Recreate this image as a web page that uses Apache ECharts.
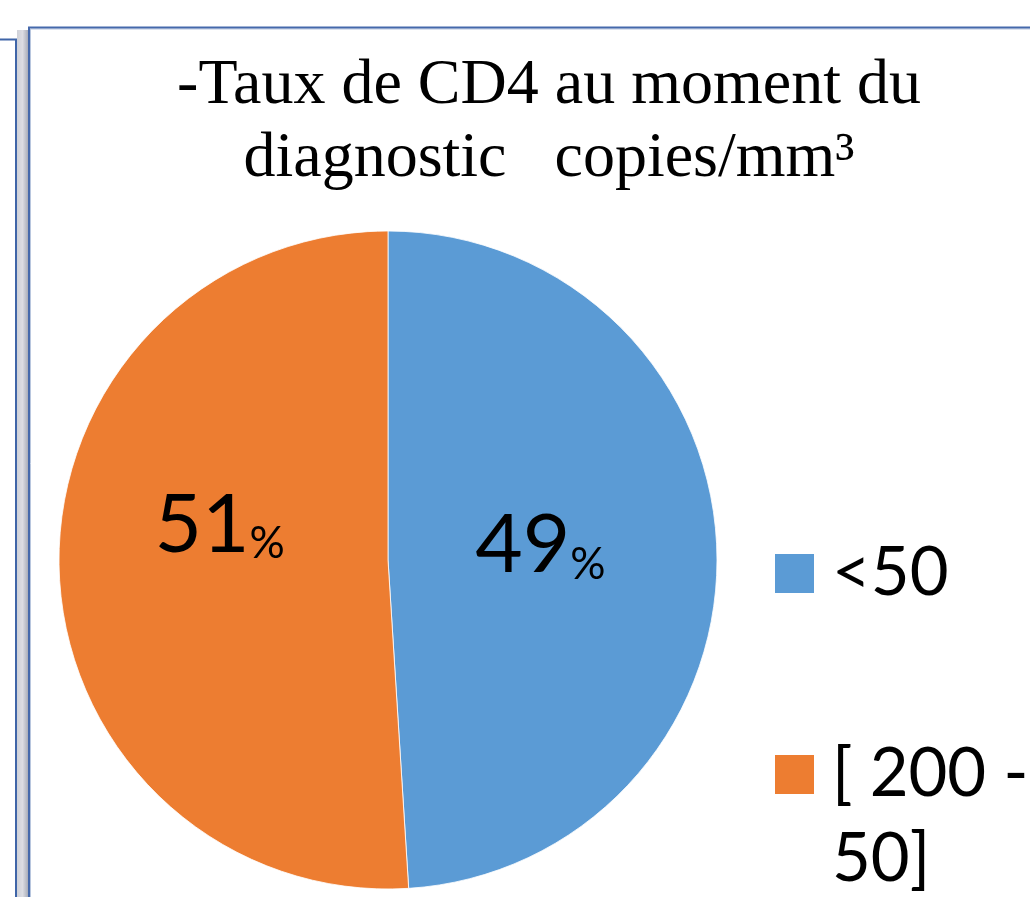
<!DOCTYPE html>
<html>
<head>
<meta charset="utf-8">
<script src="https://cdn.jsdelivr.net/npm/echarts@6/dist/echarts.min.js"></script>
<style>
html,body{margin:0;padding:0;background:#fff;}
#chart{width:1030px;height:897px;}
</style>
</head>
<body>
<div id="chart"></div>
<script>
var titleText = '-Taux de CD4 au moment du\ndiagnostic   copies/mm³';
var categories = ['<50', '[ 200 - 50]'];
var values = [49, 51];
var colors = ['#5B9BD5', '#ED7D31'];

var pieData = categories.map(function (c, i) {
  return { name: c, value: values[i], itemStyle: { color: colors[i] } };
});

var chart = echarts.init(document.getElementById('chart'), null, { renderer: 'canvas' });
chart.setOption({
  backgroundColor: '#fff',
  animation: false,
  title: {
    text: titleText,
    left: 549,
    top: 50,
    padding: 0,
    textAlign: 'center',
    textStyle: {
      fontFamily: 'Liberation Serif', fontSize: 64, fontWeight: 'normal',
      color: '#000', lineHeight: 73
    }
  },
  legend: [
    {
      data: [categories[0]],
      orient: 'vertical', left: 773, top: 528, padding: 0,
      itemWidth: 41, itemHeight: 41, icon: 'rect',
      textStyle: {
        fontFamily: 'Lato', fontSize: 67, color: '#000', lineHeight: 85,
        padding: [0, 0, 6, 12]
      }
    },
    {
      data: [categories[1]],
      orient: 'vertical', left: 773, top: 647, padding: 0,
      itemWidth: 41, itemHeight: 41, icon: 'rect',
      formatter: function (name) { return '\n' + name.replace(/ (\S+)$/, '\n$1'); },
      textStyle: {
        fontFamily: 'Lato', fontSize: 67, color: '#000', lineHeight: 85,
        padding: [0, 0, 0, 12]
      }
    }
  ],
  graphic: [
    { type: 'rect', silent: true, shape: { x: 17, y: 30, width: 11, height: 870 },
      style: { fill: new echarts.graphic.LinearGradient(0, 0, 1, 0, [
        { offset: 0, color: '#cfd1d8' }, { offset: 0.5, color: '#dcdde3' }, { offset: 1, color: '#a9adb9' }]) } },
    { type: 'polyline', silent: true, shape: { points: [[0, 39.5], [16, 39.5], [16, 900]] },
      style: { stroke: '#3f65a8', lineWidth: 2, fill: null } },
    { type: 'polyline', silent: true, shape: { points: [[30.5, 900], [30.5, 29], [1032, 29]] },
      style: { stroke: '#b8c6de', lineWidth: 1, fill: null } },
    { type: 'polyline', silent: true, shape: { points: [[29, 900], [29, 27.5], [1032, 27.5]] },
      style: { stroke: '#4569ab', lineWidth: 2, fill: null } }
  ],
  series: [{
    type: 'pie',
    center: [388, 560],
    radius: 329,
    startAngle: 90,
    clockwise: true,
    silent: true,
    data: pieData,
    itemStyle: { borderColor: '#ffffff', borderWidth: 0.8 },
    labelLine: { show: false },
    label: {
      show: true,
      position: 'inside',
      formatter: function (p) { return '{v|' + p.value + '}{p|%}'; },
      rich: {
        v: { fontFamily: 'Lato', fontSize: 82, color: '#000', lineHeight: 82 },
        p: { fontFamily: 'Lato', fontSize: 44, color: '#000', lineHeight: 57, verticalAlign: 'bottom' }
      }
    },
    labelLayout: function (params) {
      return params.dataIndex === 0 ? { dx: -15, dy: -9 } : { dx: -1, dy: -40 };
    }
  }]
});
</script>
</body>
</html>
